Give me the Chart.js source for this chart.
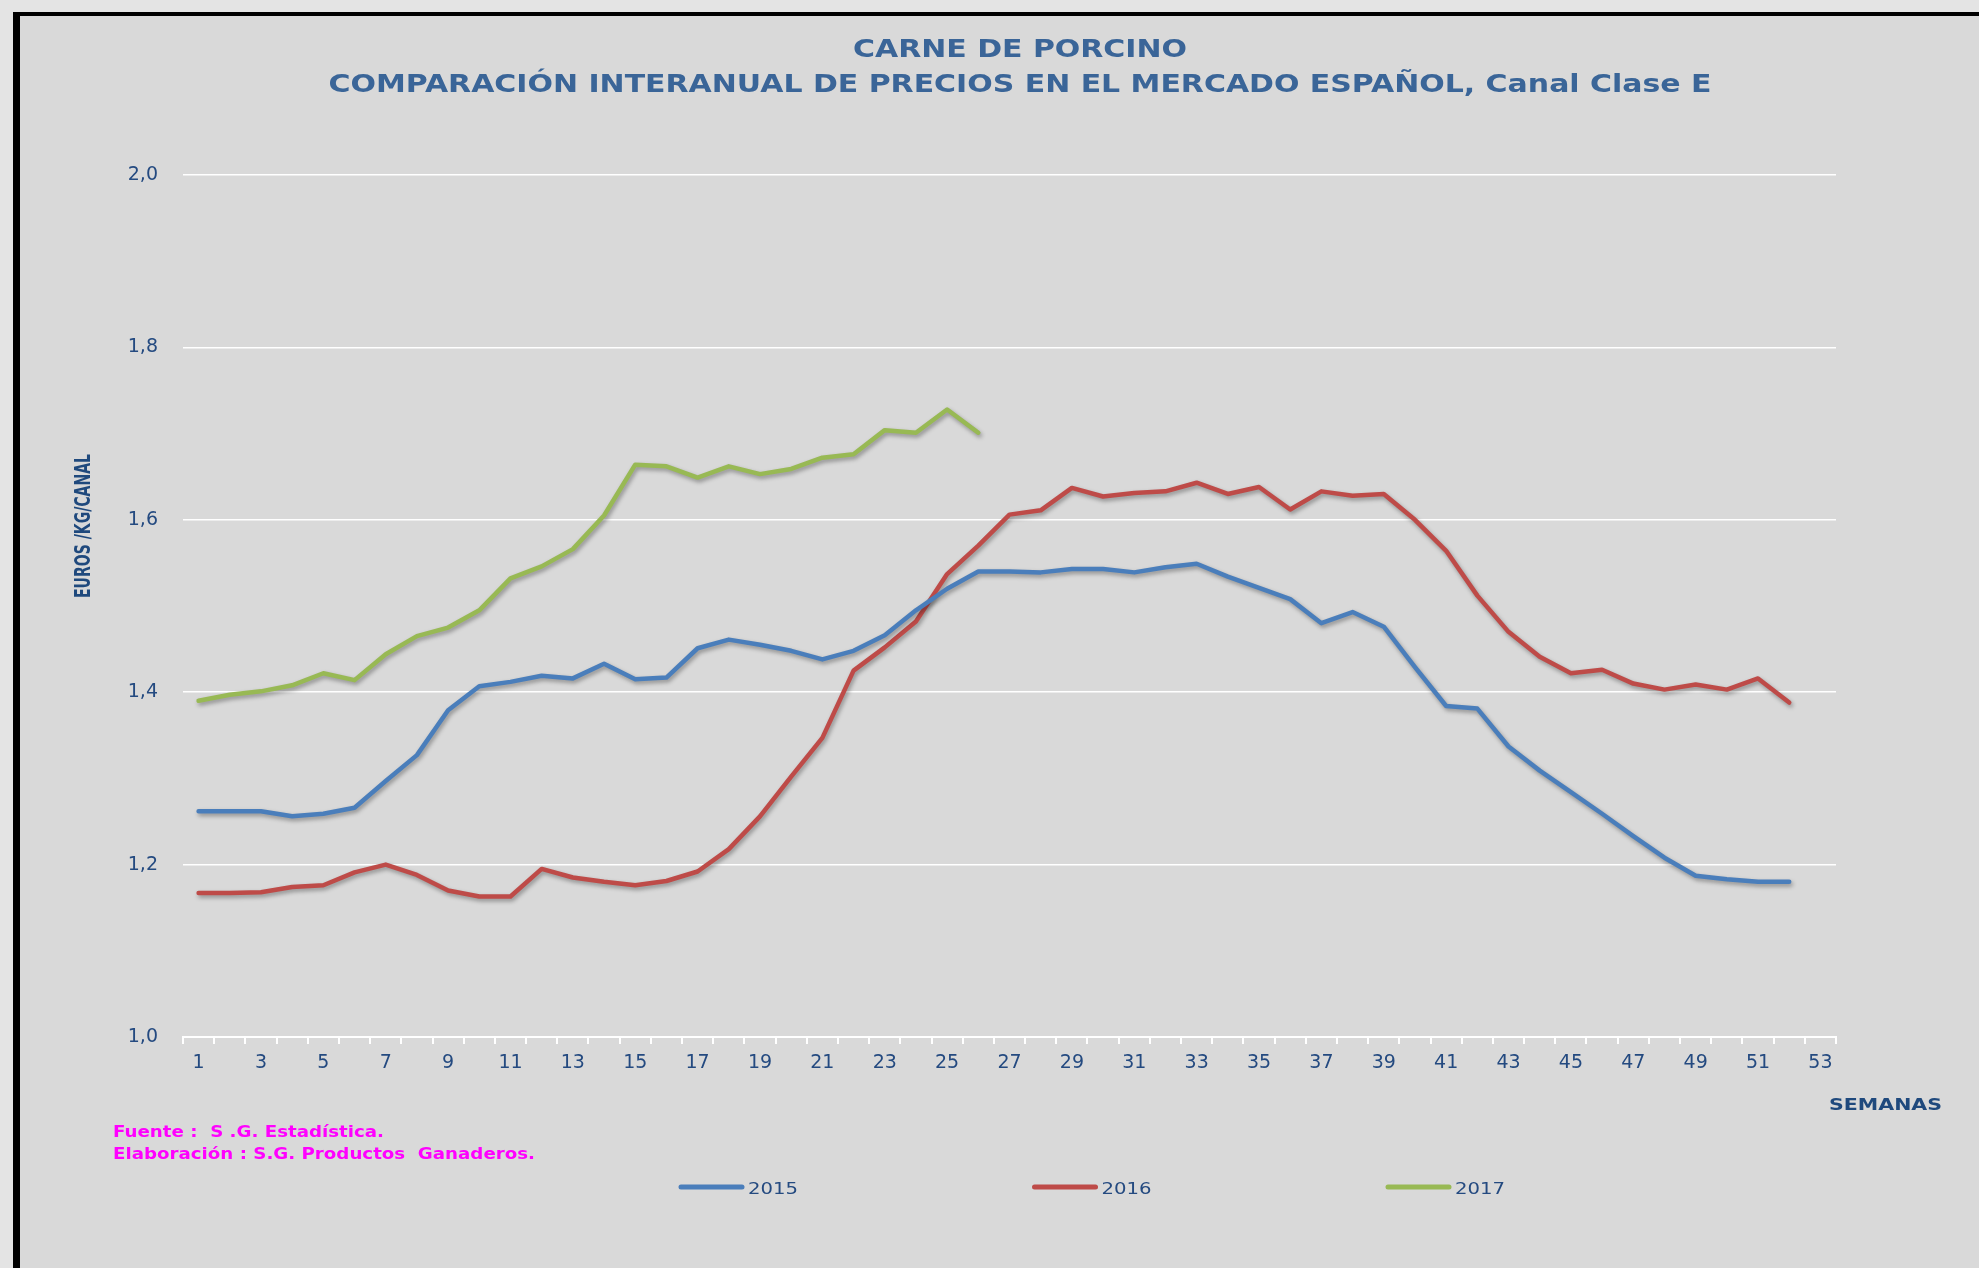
<!DOCTYPE html>
<html>
<head>
<meta charset="utf-8">
<script src="https://cdn.jsdelivr.net/npm/chart.js@4.4.1/dist/chart.umd.min.js"></script>
<style>
  html, body { margin: 0; padding: 0; background: #e4e4e4; }
  #wrap { width: 1979px; height: 1268px; }
</style>
</head>
<body>
<div id="wrap"><canvas id="precios" width="1979" height="1268"></canvas></div>
<script>
// semanas del año
const semanas = ['1','2','3','4','5','6','7','8','9','10','11','12','13','14','15','16','17','18','19','20',
  '21','22','23','24','25','26','27','28','29','30','31','32','33','34','35','36','37','38','39','40',
  '41','42','43','44','45','46','47','48','49','50','51','52','53'];

// euros / kg canal, clase E
const precios2015 = [1.262, 1.262, 1.262, 1.256, 1.259, 1.266, 1.297, 1.327, 1.379, 1.407,
  1.412, 1.419, 1.416, 1.433, 1.415, 1.417, 1.451, 1.461, 1.455, 1.448,
  1.438, 1.448, 1.466, 1.495, 1.520, 1.540, 1.540, 1.539, 1.543, 1.543,
  1.539, 1.545, 1.549, 1.534, 1.521, 1.508, 1.480, 1.493, 1.476, 1.429,
  1.384, 1.381, 1.337, 1.309, 1.284, 1.259, 1.233, 1.208, 1.187, 1.183,
  1.180, 1.180];

const precios2016 = [1.167, 1.167, 1.168, 1.174, 1.176, 1.191, 1.200, 1.188, 1.170, 1.163,
  1.163, 1.195, 1.185, 1.180, 1.176, 1.181, 1.192, 1.218, 1.256, 1.302,
  1.347, 1.425, 1.452, 1.482, 1.537, 1.570, 1.606, 1.611, 1.637, 1.627,
  1.631, 1.633, 1.643, 1.630, 1.638, 1.612, 1.633, 1.628, 1.630, 1.600,
  1.564, 1.512, 1.470, 1.441, 1.422, 1.426, 1.410, 1.403, 1.409, 1.403,
  1.416, 1.388];

const precios2017 = [1.390, 1.397, 1.401, 1.408, 1.422, 1.414, 1.444, 1.465, 1.475, 1.495,
  1.532, 1.546, 1.566, 1.605, 1.664, 1.662, 1.649, 1.662, 1.653, 1.659,
  1.672, 1.676, 1.704, 1.701, 1.728, 1.701];

const years = ['2015', '2016', '2017'];
const colores = ['#4a7ebb', '#be4b48', '#98b954'];

const tituloColor = '#3a6598';
const ejeColor = '#244a80';

// draw text squeezed/stretched horizontally to a given width
function fitText(ctx, text, x, y, width, align) {
  const w = ctx.measureText(text).width;
  ctx.save();
  ctx.translate(x, y);
  ctx.scale(width / w, 1);
  ctx.textAlign = 'left';
  ctx.fillText(text, align === 'center' ? -w / 2 : 0, 0);
  ctx.restore();
}

const marco = {
  id: 'marco',
  beforeDraw(chart) {
    const c = chart.ctx, W = chart.width, H = chart.height;
    c.save();
    c.fillStyle = '#e4e4e4';
    c.fillRect(0, 0, W, H);
    c.fillStyle = '#000000';
    c.fillRect(13, 12, W, H);
    c.fillStyle = '#d9d9d9';
    c.fillRect(20, 16, W, H);
    c.restore();
  }
};

const sombra = {
  id: 'sombra',
  beforeDatasetsDraw(chart) {
    const c = chart.ctx;
    c.save();
    c.shadowColor = 'rgba(0,0,0,0.35)';
    c.shadowBlur = 4;
    c.shadowOffsetX = 1.5;
    c.shadowOffsetY = 2.5;
  },
  afterDatasetsDraw(chart) {
    chart.ctx.restore();
  }
};

const textos = {
  id: 'textos',
  afterDraw(chart) {
    const c = chart.ctx;
    c.save();
    c.textBaseline = 'alphabetic';

    // titulo
    c.fillStyle = tituloColor;
    c.font = 'bold 25px "DejaVu Sans"';
    fitText(c, 'CARNE DE PORCINO', 1020, 57, 334, 'center');
    fitText(c, 'COMPARACIÓN INTERANUAL DE PRECIOS EN EL MERCADO ESPAÑOL, Canal Clase E', 1020, 92, 1383, 'center');

    // eje y
    c.fillStyle = '#1f497d';
    c.font = 'bold 21px "Liberation Sans Narrow", "DejaVu Sans Condensed", sans-serif';
    c.save();
    c.translate(90, 526);
    c.rotate(-Math.PI / 2);
    fitText(c, 'EUROS /KG/CANAL', 0, 0, 144, 'center');
    c.restore();

    // eje x
    c.font = 'bold 16px "DejaVu Sans"';
    fitText(c, 'SEMANAS', 1829, 1110, 113, 'left');

    // fuente
    c.fillStyle = '#ff00ff';
    c.font = 'bold 15px "DejaVu Sans"';
    fitText(c, 'Fuente :  S .G. Estadística.', 113, 1137, 271, 'left');
    fitText(c, 'Elaboración : S.G. Productos  Ganaderos.', 113, 1159, 422, 'left');

    // leyenda
    c.font = '16px "DejaVu Sans"';
    chart.data.datasets.forEach((ds, i) => {
      const x0 = 681 + i * 353.5;
      c.strokeStyle = ds.borderColor;
      c.lineWidth = 5;
      c.lineCap = 'round';
      c.beginPath();
      c.moveTo(x0, 1187);
      c.lineTo(x0 + 61, 1187);
      c.stroke();
      c.fillStyle = ejeColor;
      fitText(c, ds.label, x0 + 67, 1194, 50, 'left');
    });
    c.restore();
  }
};

const serie = (label, data, color) => ({
  label: label,
  data: data,
  borderColor: color,
  backgroundColor: color,
  borderWidth: 4.5,
  pointRadius: 0,
  tension: 0,
  borderCapStyle: 'round',
  borderJoinStyle: 'round',
  fill: false
});

new Chart(document.getElementById('precios').getContext('2d'), {
  type: 'line',
  data: {
    labels: semanas,
    datasets: [
      serie(years[0], precios2015, colores[0]),
      serie(years[1], precios2016, colores[1]),
      serie(years[2], precios2017, colores[2])
    ]
  },
  options: {
    responsive: false,
    animation: false,
    layout: { padding: { top: 175, right: 143, bottom: 0, left: 0 } },
    plugins: {
      legend: { display: false },
      title: { display: false },
      tooltip: { enabled: false }
    },
    scales: {
      x: {
        offset: true,
        grid: { offset: true, drawOnChartArea: false, drawTicks: true, tickLength: 7, color: '#ffffff', lineWidth: 2 },
        border: { display: true, color: '#ffffff', width: 2 },
        ticks: {
          autoSkip: false,
          maxRotation: 0,
          padding: 8,
          color: ejeColor,
          font: { family: 'DejaVu Sans', size: 19 },
          callback: function (v, i) { return i % 2 === 0 ? this.getLabelForValue(v) : ''; }
        },
        afterFit: (s) => { s.height = 231; }
      },
      y: {
        min: 1,
        max: 2,
        ticks: {
          stepSize: 0.2,
          padding: 25,
          color: ejeColor,
          font: { family: 'DejaVu Sans', size: 19 },
          callback: (v) => v.toFixed(1).replace('.', ',')
        },
        grid: { color: '#ffffff', lineWidth: 1.5, drawTicks: false },
        border: { display: false },
        afterFit: (s) => { s.width = 183; }
      }
    }
  },
  plugins: [marco, sombra, textos]
});
</script>
</body>
</html>
